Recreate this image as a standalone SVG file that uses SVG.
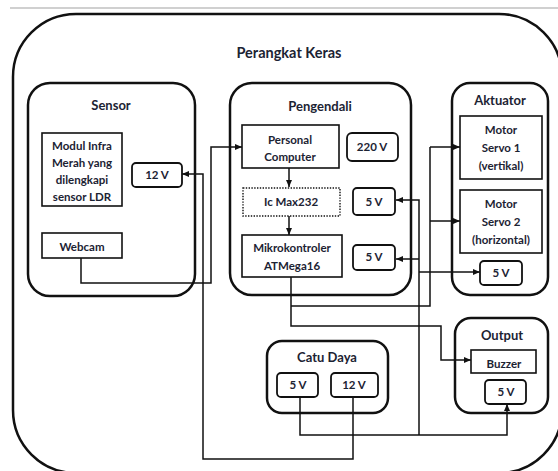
<svg xmlns="http://www.w3.org/2000/svg" width="558" height="471" viewBox="0 0 558 471">
<defs>
<marker id="ah" markerUnits="userSpaceOnUse" markerWidth="8" markerHeight="8" refX="7" refY="4" orient="auto">
<path d="M0,1 L7,4 L0,7 Z" fill="#111"/>
</marker>
<style>
.grp{fill:none;stroke:#111;stroke-width:2.5}
.box{fill:#fff;stroke:#111;stroke-width:1.6}
.vb{fill:#fff;stroke:#111;stroke-width:1.8}
.dot{fill:#fff;stroke:#111;stroke-width:1.4;stroke-dasharray:1.4 1.4}
.con{fill:none;stroke:#111;stroke-width:1.5}
.arr{marker-end:url(#ah)}
text{font-family:Lato,"Liberation Sans",sans-serif;font-weight:bold;fill:#1c2333;text-anchor:middle}
.t{font-size:14.5px}
.h{font-size:13px}
.s{font-size:11.5px}
</style>
</defs>
<rect width="558" height="471" fill="#fff"/>
<line x1="10" y1="8" x2="558" y2="8" stroke="#d0d0d0" stroke-width="2"/>

<g id="hardware">
<rect class="grp" x="13" y="14" width="549" height="459" rx="63"/>
<text class="t" x="289" y="58">Perangkat Keras</text>
</g>

<g id="connectors">
<path class="con arr" d="M353,397 V459 H203 V174 H182"/>
<path class="con arr" d="M81,258 V283 H211 V147 H242"/>
<path class="con arr" d="M289,168 V187"/>
<path class="con arr" d="M289,216 V235"/>
<path class="con arr" d="M291,277 V326 H441 V360 H471"/>
<path class="con" d="M291,306 H430 V147"/>
<path class="con arr" d="M430,147 H460"/>
<path class="con arr" d="M430,221 H460"/>
<path class="con arr" d="M300,397 V435 H507 V404"/>
<path class="con arr" d="M419,435 V200 H396"/>
<path class="con arr" d="M419,259 H396"/>
<path class="con arr" d="M419,272 H480"/>
</g>

<g id="sensor">
<rect class="grp" x="28" y="83" width="167" height="213" rx="22"/>
<text class="h" x="111" y="110">Sensor</text>
</g>
<g id="modul-infra">
<rect class="box" x="42" y="133" width="80" height="73"/>
<text class="s" x="82" y="150">Modul Infra</text>
<text class="s" x="82" y="167">Merah yang</text>
<text class="s" x="82" y="184">dilengkapi</text>
<text class="s" x="82" y="201">sensor LDR</text>
</g>
<g id="sensor-12v">
<rect class="vb" x="132" y="163" width="50" height="24" rx="4"/>
<text class="s" x="157" y="179">12 V</text>
</g>
<g id="webcam">
<rect class="box" x="42" y="233" width="80" height="25"/>
<text class="s" x="82" y="251">Webcam</text>
</g>

<g id="pengendali">
<rect class="grp" x="230" y="83" width="181" height="212" rx="22"/>
<text class="h" x="320" y="111">Pengendali</text>
</g>
<g id="pc">
<rect class="box" x="242" y="125" width="97" height="43"/>
<text class="s" x="290" y="144">Personal</text>
<text class="s" x="290" y="161">Computer</text>
</g>
<g id="v220">
<rect class="vb" x="347" y="133" width="51" height="28" rx="5"/>
<text class="s" x="372" y="151">220 V</text>
</g>
<g id="icmax232">
<rect class="dot" x="243" y="188" width="97" height="28"/>
<text class="s" x="291" y="206">Ic Max232</text>
</g>
<g id="peng-5v-1">
<rect class="vb" x="353" y="188" width="42" height="27" rx="4"/>
<text class="s" x="374" y="206">5 V</text>
</g>
<g id="mikrokontroler">
<rect class="box" x="242" y="235" width="100" height="42"/>
<text class="s" x="292" y="252">Mikrokontroler</text>
<text class="s" x="292" y="270">ATMega16</text>
</g>
<g id="peng-5v-2">
<rect class="vb" x="353" y="245" width="42" height="25" rx="4"/>
<text class="s" x="374" y="261">5 V</text>
</g>

<g id="aktuator">
<rect class="grp" x="452" y="83" width="96" height="212" rx="18"/>
<text class="h" x="500" y="105">Aktuator</text>
</g>
<g id="servo1">
<rect class="box" x="460" y="116" width="82" height="63"/>
<text class="s" x="501" y="134">Motor</text>
<text class="s" x="501" y="152">Servo 1</text>
<text class="s" x="501" y="170">(vertikal)</text>
</g>
<g id="servo2">
<rect class="box" x="460" y="190" width="82" height="63"/>
<text class="s" x="501" y="208">Motor</text>
<text class="s" x="501" y="226">Servo 2</text>
<text class="s" x="501" y="244">(horizontal)</text>
</g>
<g id="akt-5v">
<rect class="vb" x="480" y="261" width="42" height="24" rx="4"/>
<text class="s" x="501" y="277">5 V</text>
</g>

<g id="output">
<rect class="grp" x="455" y="318" width="93" height="95" rx="16"/>
<text class="h" x="502" y="340">Output</text>
</g>
<g id="buzzer">
<rect class="box" x="471" y="350" width="65" height="23"/>
<text class="s" x="504" y="368">Buzzer</text>
</g>
<g id="out-5v">
<rect class="vb" x="485" y="380" width="41" height="24" rx="4"/>
<text class="s" x="506" y="396">5 V</text>
</g>

<g id="catu-daya">
<rect class="grp" x="267" y="341" width="121" height="72" rx="15"/>
<text class="h" x="327" y="362">Catu Daya</text>
</g>
<g id="catu-5v">
<rect class="vb" x="277" y="373" width="41" height="24" rx="4"/>
<text class="s" x="298" y="389">5 V</text>
</g>
<g id="catu-12v">
<rect class="vb" x="331" y="373" width="47" height="24" rx="4"/>
<text class="s" x="354" y="389">12 V</text>
</g>
</svg>
